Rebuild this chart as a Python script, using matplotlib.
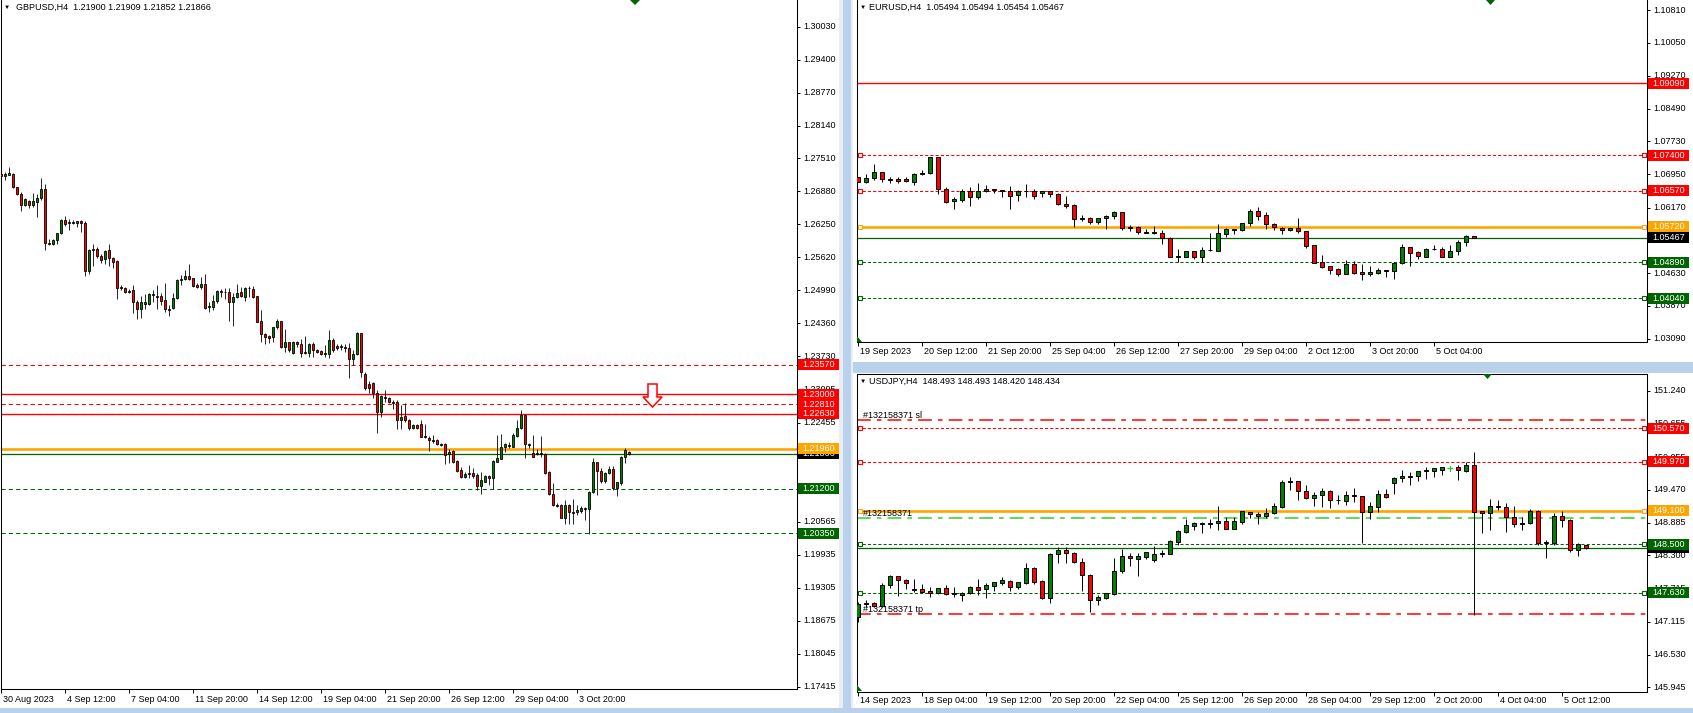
import numpy as np
import matplotlib
matplotlib.use("Agg")
import matplotlib.pyplot as plt
import matplotlib.transforms as mtransforms
from matplotlib.patches import Rectangle, Polygon

plt.rcParams["font.family"] = ["Liberation Sans", "DejaVu Sans"]
plt.rcParams["font.size"] = 6.5

W, H = 1693, 713

# ---------------- GBPUSD H4 ----------------
gbp_open = [1.2721, 1.2717, 1.2720, 1.2722, 1.2696, 1.2684, 1.2663, 1.2670, 1.2663, 1.2668,
            1.2675, 1.2692, 1.2589, 1.2587, 1.2596, 1.2608, 1.2633, 1.2627, 1.2628, 1.2627,
            1.2631, 1.2628, 1.2535, 1.2576, 1.2578, 1.2564, 1.2558, 1.2576, 1.2560, 1.2555,
            1.2503, 1.2504, 1.2496, 1.2499, 1.2477, 1.2463, 1.2472, 1.2473, 1.2492, 1.2489,
            1.2488, 1.2480, 1.2463, 1.2466, 1.2485, 1.2519, 1.2520, 1.2527, 1.2522, 1.2509,
            1.2506, 1.2511, 1.2467, 1.2468, 1.2478, 1.2497, 1.2495, 1.2496, 1.2477, 1.2487,
            1.2495, 1.2487, 1.2503, 1.2501, 1.2488, 1.2440, 1.2416, 1.2411, 1.2410, 1.2428,
            1.2440, 1.2390, 1.2400, 1.2380, 1.2400, 1.2396, 1.2381, 1.2380, 1.2396, 1.2384,
            1.2383, 1.2379, 1.2377, 1.2405, 1.2392, 1.2390, 1.2391, 1.2388, 1.2368, 1.2377,
            1.2417, 1.2340, 1.2320, 1.2321, 1.2303, 1.2267, 1.2296, 1.2294, 1.2286, 1.2285,
            1.2252, 1.2259, 1.2252, 1.2236, 1.2242, 1.2243, 1.2220, 1.2217, 1.2213, 1.2212,
            1.2206, 1.2206, 1.2186, 1.2192, 1.2173, 1.2156, 1.2143, 1.2148, 1.2150, 1.2146,
            1.2125, 1.2133, 1.2144, 1.2140, 1.2171, 1.2177, 1.2199, 1.2204, 1.2200, 1.2220,
            1.2235, 1.2261, 1.2206, 1.2189, 1.2188, 1.2187, 1.2187, 1.2152, 1.2110, 1.2089,
            1.2089, 1.2064, 1.2089, 1.2075, 1.2075, 1.2077, 1.2082, 1.2081, 1.2113, 1.2170,
            1.2153, 1.2135, 1.2149, 1.2157, 1.2122, 1.2130, 1.2180, 1.2190]
gbp_high = [1.2729, 1.2726, 1.2734, 1.2724, 1.2697, 1.2687, 1.2675, 1.2671, 1.2685, 1.2684,
            1.2713, 1.2703, 1.2598, 1.2598, 1.2609, 1.2635, 1.2642, 1.2636, 1.2633, 1.2631,
            1.2633, 1.2631, 1.2578, 1.2587, 1.2581, 1.2568, 1.2576, 1.2587, 1.2563, 1.2557,
            1.2509, 1.2506, 1.2501, 1.2509, 1.2480, 1.2489, 1.2492, 1.2493, 1.2499, 1.2510,
            1.2494, 1.2513, 1.2471, 1.2494, 1.2520, 1.2529, 1.2538, 1.2549, 1.2523, 1.2513,
            1.2524, 1.2530, 1.2477, 1.2490, 1.2499, 1.2501, 1.2503, 1.2504, 1.2493, 1.2512,
            1.2505, 1.2506, 1.2507, 1.2507, 1.2489, 1.2461, 1.2418, 1.2413, 1.2429, 1.2445,
            1.2441, 1.2426, 1.2401, 1.2402, 1.2403, 1.2406, 1.2412, 1.2398, 1.2401, 1.2386,
            1.2385, 1.2394, 1.2424, 1.2407, 1.2396, 1.2396, 1.2396, 1.2398, 1.2385, 1.2420,
            1.2418, 1.2342, 1.2326, 1.2324, 1.2308, 1.2299, 1.2308, 1.2296, 1.2289, 1.2289,
            1.2280, 1.2283, 1.2254, 1.2244, 1.2243, 1.2252, 1.2243, 1.2220, 1.2222, 1.2214,
            1.2207, 1.2208, 1.2195, 1.2194, 1.2175, 1.2162, 1.2152, 1.2165, 1.2159, 1.2149,
            1.2152, 1.2146, 1.2146, 1.2175, 1.2222, 1.2225, 1.2207, 1.2210, 1.2227, 1.2251,
            1.2271, 1.2262, 1.2208, 1.2222, 1.2196, 1.2220, 1.2189, 1.2153, 1.2130, 1.2092,
            1.2090, 1.2098, 1.2090, 1.2101, 1.2089, 1.2086, 1.2084, 1.2115, 1.2178, 1.2171,
            1.2159, 1.2151, 1.2163, 1.2163, 1.2133, 1.2182, 1.2198, 1.2191]
gbp_low = [1.2707, 1.2710, 1.2719, 1.2694, 1.2681, 1.2651, 1.2660, 1.2657, 1.2659, 1.2640,
           1.2671, 1.2577, 1.2585, 1.2585, 1.2587, 1.2606, 1.2622, 1.2614, 1.2626, 1.2620,
           1.2611, 1.2526, 1.2531, 1.2545, 1.2560, 1.2552, 1.2549, 1.2546, 1.2541, 1.2482,
           1.2500, 1.2493, 1.2493, 1.2456, 1.2445, 1.2447, 1.2464, 1.2471, 1.2477, 1.2463,
           1.2471, 1.2457, 1.2450, 1.2464, 1.2483, 1.2509, 1.2519, 1.2519, 1.2506, 1.2503,
           1.2501, 1.2464, 1.2458, 1.2461, 1.2475, 1.2487, 1.2482, 1.2441, 1.2431, 1.2484,
           1.2487, 1.2479, 1.2487, 1.2485, 1.2438, 1.2401, 1.2396, 1.2398, 1.2401, 1.2426,
           1.2388, 1.2382, 1.2382, 1.2378, 1.2391, 1.2371, 1.2377, 1.2372, 1.2372, 1.2379,
           1.2375, 1.2371, 1.2369, 1.2382, 1.2385, 1.2385, 1.2382, 1.2332, 1.2356, 1.2375,
           1.2333, 1.2308, 1.2303, 1.2294, 1.2227, 1.2257, 1.2286, 1.2283, 1.2273, 1.2233,
           1.2233, 1.2248, 1.2232, 1.2234, 1.2234, 1.2218, 1.2216, 1.2192, 1.2207, 1.2204,
           1.2202, 1.2167, 1.2169, 1.2168, 1.2152, 1.2141, 1.2140, 1.2140, 1.2141, 1.2117,
           1.2110, 1.2132, 1.2127, 1.2120, 1.2170, 1.2176, 1.2190, 1.2198, 1.2199, 1.2219,
           1.2233, 1.2179, 1.2198, 1.2180, 1.2185, 1.2181, 1.2148, 1.2108, 1.2087, 1.2084,
           1.2063, 1.2052, 1.2052, 1.2053, 1.2070, 1.2073, 1.2060, 1.2034, 1.2111, 1.2108,
           1.2130, 1.2131, 1.2148, 1.2117, 1.2106, 1.2127, 1.2169, 1.2185]
gbp_close = [1.2717, 1.2721, 1.2723, 1.2696, 1.2684, 1.2663, 1.2673, 1.2663, 1.2670, 1.2675,
             1.2692, 1.2589, 1.2587, 1.2596, 1.2608, 1.2633, 1.2626, 1.2630, 1.2630, 1.2631,
             1.2628, 1.2535, 1.2576, 1.2578, 1.2564, 1.2557, 1.2575, 1.2560, 1.2554, 1.2503,
             1.2506, 1.2495, 1.2498, 1.2477, 1.2463, 1.2476, 1.2477, 1.2492, 1.2490, 1.2487,
             1.2479, 1.2463, 1.2461, 1.2485, 1.2519, 1.2521, 1.2527, 1.2521, 1.2508, 1.2506,
             1.2511, 1.2466, 1.2469, 1.2478, 1.2497, 1.2495, 1.2496, 1.2477, 1.2487, 1.2494,
             1.2489, 1.2503, 1.2504, 1.2487, 1.2439, 1.2415, 1.2409, 1.2407, 1.2428, 1.2440,
             1.2390, 1.2400, 1.2385, 1.2400, 1.2396, 1.2380, 1.2380, 1.2396, 1.2384, 1.2382,
             1.2378, 1.2377, 1.2405, 1.2385, 1.2388, 1.2392, 1.2388, 1.2368, 1.2377, 1.2417,
             1.2343, 1.2313, 1.2313, 1.2303, 1.2267, 1.2297, 1.2293, 1.2286, 1.2284, 1.2252,
             1.2257, 1.2252, 1.2236, 1.2242, 1.2235, 1.2219, 1.2218, 1.2212, 1.2211, 1.2206,
             1.2204, 1.2185, 1.2190, 1.2170, 1.2154, 1.2143, 1.2148, 1.2150, 1.2145, 1.2125,
             1.2136, 1.2144, 1.2140, 1.2172, 1.2178, 1.2199, 1.2205, 1.2202, 1.2222, 1.2236,
             1.2261, 1.2206, 1.2203, 1.2181, 1.2186, 1.2189, 1.2150, 1.2109, 1.2088, 1.2086,
             1.2064, 1.2089, 1.2075, 1.2073, 1.2079, 1.2082, 1.2081, 1.2114, 1.2170, 1.2153,
             1.2135, 1.2150, 1.2157, 1.2122, 1.2132, 1.2181, 1.2194, 1.2187]
gbp_xlabels = ["30 Aug 2023", "4 Sep 12:00", "7 Sep 04:00", "11 Sep 20:00", "14 Sep 12:00",
               "19 Sep 04:00", "21 Sep 20:00", "26 Sep 12:00", "29 Sep 04:00", "3 Oct 20:00"]
gbp_yticks = [1.30030, 1.29400, 1.28770, 1.28140, 1.27510, 1.26880, 1.26250, 1.25620, 1.24990,
              1.24360, 1.23730, 1.23095, 1.22455, 1.21825, 1.20565, 1.19935, 1.19305,
              1.18675, 1.18045, 1.17415]

# ---------------- EURUSD H4 ----------------
eur_open = [1.0688, 1.0678, 1.0686, 1.0700, 1.0684, 1.0684, 1.0684, 1.0678, 1.0695, 1.0698,
            1.0735, 1.0660, 1.0632, 1.0635, 1.0656, 1.0641, 1.0655, 1.0661, 1.0658, 1.0656,
            1.0646, 1.0656, 1.0656, 1.0651, 1.0656, 1.0648, 1.0625, 1.0623, 1.0590, 1.0593,
            1.0584, 1.0592, 1.0597, 1.0607, 1.0569, 1.0571, 1.0560, 1.0558, 1.0558, 1.0545,
            1.0502, 1.0502, 1.0514, 1.0502, 1.0517, 1.0516, 1.0555, 1.0566, 1.0564, 1.0580,
            1.0609, 1.0599, 1.0578, 1.0569, 1.0564, 1.0569, 1.0562, 1.0529, 1.0489, 1.0480,
            1.0474, 1.0462, 1.0484, 1.0466, 1.0460, 1.0464, 1.0470, 1.0469, 1.0486, 1.0525,
            1.0512, 1.0502, 1.0520, 1.0520, 1.0502, 1.0514, 1.0536, 1.05494]
eur_high = [1.0690, 1.0695, 1.0720, 1.0700, 1.0690, 1.0688, 1.0688, 1.0698, 1.0705, 1.0737,
            1.0737, 1.0665, 1.0641, 1.0662, 1.0665, 1.0675, 1.0670, 1.0662, 1.0658, 1.0668,
            1.0659, 1.0673, 1.0660, 1.0656, 1.0656, 1.0651, 1.0644, 1.0625, 1.0600, 1.0596,
            1.0592, 1.0600, 1.0610, 1.0607, 1.0576, 1.0574, 1.0568, 1.0574, 1.0565, 1.0547,
            1.0519, 1.0515, 1.0515, 1.0524, 1.0557, 1.0578, 1.0569, 1.0567, 1.0582, 1.0615,
            1.0619, 1.0607, 1.0580, 1.0571, 1.0570, 1.0593, 1.0562, 1.0530, 1.0506, 1.0481,
            1.0475, 1.0494, 1.0492, 1.0485, 1.0480, 1.0475, 1.0470, 1.0489, 1.0532, 1.0525,
            1.0514, 1.0522, 1.0529, 1.0524, 1.0529, 1.0541, 1.0553, 1.05494]
eur_low = [1.0677, 1.0674, 1.0682, 1.0678, 1.0676, 1.0676, 1.0677, 1.0671, 1.0693, 1.0696,
           1.0650, 1.0629, 1.0615, 1.0631, 1.0622, 1.0637, 1.0653, 1.0652, 1.0641, 1.0615,
           1.0633, 1.0641, 1.0638, 1.0641, 1.0643, 1.0623, 1.0617, 1.0572, 1.0585, 1.0579,
           1.0578, 1.0568, 1.0590, 1.0565, 1.0561, 1.0554, 1.0557, 1.0554, 1.0532, 1.0500,
           1.0489, 1.0500, 1.0496, 1.0490, 1.0515, 1.0515, 1.0549, 1.0556, 1.0561, 1.0574,
           1.0587, 1.0568, 1.0564, 1.0556, 1.0563, 1.0558, 1.0523, 1.0486, 1.0476, 1.0462,
           1.0457, 1.0460, 1.0460, 1.0446, 1.0457, 1.0462, 1.0455, 1.0450, 1.0484, 1.0481,
           1.0497, 1.0501, 1.0518, 1.0500, 1.0500, 1.0506, 1.0528, 1.05454]
eur_close = [1.0678, 1.0686, 1.0700, 1.0684, 1.0681, 1.0680, 1.0679, 1.0695, 1.0699, 1.0735,
             1.0660, 1.0631, 1.0637, 1.0656, 1.0641, 1.0656, 1.0662, 1.0659, 1.0656, 1.0645,
             1.0656, 1.0657, 1.0644, 1.0656, 1.0648, 1.0625, 1.0622, 1.0590, 1.0593, 1.0584,
             1.0592, 1.0597, 1.0607, 1.0569, 1.0572, 1.0559, 1.0558, 1.0560, 1.0545, 1.0502,
             1.0504, 1.0514, 1.0502, 1.0517, 1.0518, 1.0557, 1.0566, 1.0564, 1.0580, 1.0609,
             1.0598, 1.0578, 1.0572, 1.0564, 1.0569, 1.0561, 1.0528, 1.0488, 1.0478, 1.0471,
             1.0462, 1.0484, 1.0464, 1.0460, 1.0465, 1.0470, 1.0469, 1.0487, 1.0525, 1.0511,
             1.0504, 1.0520, 1.0520, 1.0502, 1.0515, 1.0536, 1.0550, 1.05467]
eur_xlabels = ["19 Sep 2023", "20 Sep 12:00", "21 Sep 20:00", "25 Sep 04:00", "26 Sep 12:00",
               "27 Sep 20:00", "29 Sep 04:00", "2 Oct 12:00", "3 Oct 20:00", "5 Oct 04:00"]
eur_yticks = [1.10810, 1.10050, 1.09270, 1.08490, 1.07730, 1.06950, 1.06170,
              1.04630, 1.03870, 1.03090]

# ---------------- USDJPY H4 ----------------
jpy_open = [147.206, 147.432, 147.456, 147.397, 147.766, 147.932, 147.855, 147.700, 147.700, 147.664,
            147.623, 147.712, 147.611, 147.587, 147.623, 147.730, 147.694, 147.760, 147.813, 147.837,
            147.730, 147.813, 148.069, 147.843, 147.534, 148.319, 148.397, 148.337, 148.176, 147.950,
            147.498, 147.534, 147.617, 148.016, 148.289, 148.230, 148.277, 148.212, 148.325, 148.331,
            148.545, 148.724, 148.831, 148.855, 148.879, 148.873, 148.914, 148.778, 148.903, 149.069,
            149.040, 149.010, 149.051, 149.170, 149.605, 149.629, 149.450, 149.319, 149.373, 149.450,
            149.283, 149.265, 149.373, 149.355, 149.069, 149.170, 149.391, 149.587, 149.676, 149.718,
            149.712, 149.807, 149.813, 149.819, 149.855, 149.873, 149.801, 149.914, 149.087, 149.051,
            149.182, 149.170, 148.980, 148.861, 148.873, 149.099, 148.528, 148.528, 149.004, 148.932,
            148.397, 148.493]
jpy_high = [147.474, 147.504, 147.474, 147.813, 147.950, 147.932, 147.873, 147.879, 147.789, 147.742,
            147.724, 147.772, 147.742, 147.653, 147.754, 147.879, 147.813, 147.831, 147.920, 147.861,
            147.831, 148.158, 148.099, 147.861, 148.337, 148.456, 148.456, 148.367, 148.248, 147.968,
            147.593, 147.635, 148.248, 148.414, 148.337, 148.337, 148.367, 148.474, 148.397, 148.575,
            148.754, 148.944, 148.903, 148.897, 148.944, 149.182, 148.980, 148.980, 149.093, 149.069,
            149.069, 149.141, 149.230, 149.647, 149.694, 149.629, 149.551, 149.432, 149.504, 149.468,
            149.373, 149.450, 149.504, 149.361, 149.260, 149.462, 149.480, 149.706, 149.825, 149.783,
            149.807, 149.873, 149.867, 149.873, 149.891, 149.914, 149.962, 150.152, 149.099, 149.301,
            149.289, 149.230, 149.182, 148.992, 149.123, 149.111, 148.575, 149.063, 149.099, 148.944,
            148.516, 148.493]
jpy_low = [147.117, 147.385, 147.373, 147.373, 147.712, 147.581, 147.694, 147.653, 147.635, 147.551,
           147.605, 147.593, 147.563, 147.492, 147.611, 147.593, 147.545, 147.670, 147.772, 147.670,
           147.694, 147.789, 147.789, 147.516, 147.456, 148.158, 148.158, 148.158, 147.670, 147.295,
           147.415, 147.516, 147.593, 147.992, 148.117, 147.938, 148.230, 148.188, 148.277, 148.319,
           148.486, 148.706, 148.754, 148.694, 148.795, 148.748, 148.766, 148.766, 148.861, 148.962,
           148.855, 148.962, 149.039, 149.153, 149.468, 149.289, 149.307, 149.188, 149.158, 149.141,
           149.212, 149.194, 149.260, 148.516, 148.944, 149.069, 149.325, 149.391, 149.617, 149.551,
           149.629, 149.658, 149.694, 149.736, 149.807, 149.647, 149.783, 147.236, 148.694, 148.754,
           149.111, 148.724, 148.813, 148.754, 148.861, 148.486, 148.248, 148.486, 148.801, 148.367,
           148.289, 148.420]
jpy_close = [147.432, 147.456, 147.397, 147.772, 147.932, 147.855, 147.813, 147.682, 147.653, 147.623,
             147.712, 147.611, 147.623, 147.635, 147.730, 147.688, 147.772, 147.825, 147.861, 147.730,
             147.825, 148.069, 147.831, 147.534, 148.325, 148.397, 148.337, 148.182, 147.944, 147.498,
             147.557, 147.623, 148.016, 148.289, 148.248, 148.289, 148.355, 148.325, 148.343, 148.557,
             148.736, 148.843, 148.879, 148.885, 148.867, 148.914, 148.778, 148.914, 149.093, 149.034,
             149.010, 149.057, 149.176, 149.611, 149.629, 149.444, 149.319, 149.379, 149.444, 149.283,
             149.295, 149.373, 149.355, 149.069, 149.176, 149.391, 149.337, 149.676, 149.718, 149.706,
             149.807, 149.825, 149.855, 149.873, 149.855, 149.819, 149.914, 149.081, 149.051, 149.182,
             149.164, 148.980, 148.855, 148.885, 149.099, 148.528, 148.545, 149.004, 148.932, 148.397,
             148.498, 148.434]
jpy_lime_doji = 74
jpy_xlabels = ["14 Sep 2023", "18 Sep 04:00", "19 Sep 12:00", "20 Sep 20:00", "22 Sep 04:00",
               "25 Sep 12:00", "26 Sep 20:00", "28 Sep 04:00", "29 Sep 12:00", "2 Oct 20:00",
               "4 Oct 04:00", "5 Oct 12:00"]
jpy_yticks = [151.240, 150.655, 150.055, 149.470, 148.885, 148.300, 147.715, 147.115, 146.530, 145.945]

RED, ORANGE, DKGREEN, BULL = "#ff0000", "#ffa500", "#006400", "#008000"

fig = plt.figure(figsize=(W / 100, H / 100), dpi=100)
fig.patch.set_facecolor("white")
ID = mtransforms.IdentityTransform()


def add_axes_px(left, top, right, bottom):
    return fig.add_axes([left / W, 1 - bottom / H, (right - left) / W, (bottom - top) / H])


def fig_rect(x0, y0, x1, y1, color, z=1):
    fig.patches.append(Rectangle((x0, H - y1), x1 - x0, y1 - y0, transform=ID,
                                 facecolor=color, edgecolor="none", zorder=z))


def fig_poly(pts, fc, ec="none", lw=1.0, z=30):
    fig.patches.append(Polygon([(x, H - y) for x, y in pts], closed=True, transform=ID,
                               facecolor=fc, edgecolor=ec, linewidth=lw, zorder=z))


def fig_text(x, y, s, color="black", z=25, size=6.5):
    fig.text(x, H - y, s, transform=ID, color=color, zorder=z, va="center", ha="left",
             fontsize=size)


def candles(ax, o, h, l, c, width, lw=0.7):
    o, h, l, c = map(np.asarray, (o, h, l, c))
    x = np.arange(len(o))
    ax.vlines(x, l, h, color="black", linewidth=lw, zorder=3)
    up = c >= o
    ax.bar(x, np.abs(c - o), width, np.minimum(o, c), color=np.where(up, BULL, RED),
           edgecolor="black", linewidth=lw, zorder=4)


def setup(ax, xlim, ylim, yticks, xlabels, step, label_y, top_spine=True):
    ax.set_xlim(*xlim)
    ax.set_ylim(*ylim)
    ax.yaxis.tick_right()
    xt = np.arange(len(xlabels)) * step
    ax.set_xticks(xt)
    ax.set_yticks(yticks)
    ax.set_xticklabels([])
    ax.set_yticklabels([])
    ax.tick_params(axis="y", direction="out", length=2.2, width=0.7)
    ax.tick_params(axis="x", direction="out", length=3.0, width=0.7)
    for s in ax.spines.values():
        s.set_linewidth(0.75)
    ax.spines["top"].set_visible(top_spine)
    # tick labels placed in pixel space, MT4 style
    xr = ax.transAxes.transform((1, 0))[0]
    for v in yticks:
        yp = H - ax.transData.transform((0, v))[1]
        fig_text(xr + 6, yp, f"{v:.5f}" if v < 10 else f"{v:.3f}", z=5)
    for xv, lab in zip(xt, xlabels):
        xp = ax.transData.transform((xv, 0))[0]
        fig_text(xp + 2, label_y, lab, z=5)


def end_marks(ax, price, color):
    ax.plot([0.004, 0.996], [price, price], transform=ax.get_yaxis_transform(), ls="none",
            marker="s", ms=2.6, mfc="white", mec=color, mew=0.8, zorder=6, clip_on=False)


box_z = [40]


def price_box(ax, price, text, bg):
    xr = ax.transAxes.transform((1, 0))[0]
    yp = H - ax.transData.transform((0, price))[1]
    box_z[0] += 2
    fig_rect(xr + 1, yp - 5.5, xr + 42, yp + 5.5, bg, z=box_z[0])
    fig_text(xr + 5, yp, text, color="white", z=box_z[0] + 1)


# window frames
fig_rect(839, 0, 853, H, "#e9eef5", z=0.5)
fig_rect(843, 0, 851, H, "#b9d1ea", z=0.6)
fig_rect(853, 362, W, 373, "#b9d1ea", z=0.6)
fig_rect(0, 708, W, H, "#b9d1ea", z=0.6)

# ---------------- GBPUSD panel ----------------
ax1 = add_axes_px(0.5, -1, 797, 689)
candles(ax1, gbp_open, gbp_high, gbp_low, gbp_close, 0.62, lw=0.6)
setup(ax1, (-0.125, 199), (1.17370, 1.30558), gbp_yticks, gbp_xlabels, 16, 699.5, top_spine=False)
ax1.axhline(1.23570, color=RED, lw=0.75, ls=(0, (4, 3)))
ax1.axhline(1.23000, color=RED, lw=1.0)
ax1.axhline(1.22810, color=RED, lw=0.75, ls=(0, (4, 3)))
ax1.axhline(1.22630, color=RED, lw=1.0)
ax1.axhline(1.21866, color=DKGREEN, lw=0.9)
ax1.axhline(1.21960, color=ORANGE, lw=1.9)
ax1.axhline(1.21200, color=DKGREEN, lw=0.75, ls=(0, (4, 3)))
ax1.axhline(1.20350, color=DKGREEN, lw=0.75, ls=(0, (4, 3)))
price_box(ax1, 1.23570, "1.23570", RED)
price_box(ax1, 1.22630, "1.22630", RED)
price_box(ax1, 1.22810, "1.22810", RED)
price_box(ax1, 1.23000, "1.23000", RED)
price_box(ax1, 1.21866, "1.21866", "black")
price_box(ax1, 1.21960, "1.21960", ORANGE)
price_box(ax1, 1.21200, "1.21200", DKGREEN)
price_box(ax1, 1.20350, "1.20350", DKGREEN)
fig_text(4, 7, "\u25bc", size=4.5)
fig_text(16, 7, "GBPUSD,H4  1.21900 1.21909 1.21852 1.21866")
fig_poly([(630, 0), (640, 0), (635, 5)], "#006400")
fig_poly([(648, 384), (657, 384), (657, 397), (662, 397), (652.5, 407), (643, 397), (648, 397)],
         "white", ec=RED, lw=1.1)

# ---------------- EURUSD panel ----------------
ax2 = add_axes_px(856.5, -1, 1647, 341.5)
candles(ax2, eur_open, eur_high, eur_low, eur_close, 0.55)
setup(ax2, (-0.15, 98.66), (1.03025, 1.11073), eur_yticks, eur_xlabels, 8, 352, top_spine=False)
ax2.axhline(1.09090, color=RED, lw=1.0)
ax2.axhline(1.07400, color=RED, lw=0.75, ls=(0, (3, 2)))
ax2.axhline(1.06570, color=RED, lw=0.75, ls=(0, (3, 2)))
ax2.axhline(1.05720, color=ORANGE, lw=1.9)
ax2.axhline(1.05467, color=DKGREEN, lw=0.9)
ax2.axhline(1.04890, color=DKGREEN, lw=0.75, ls=(0, (3, 2)))
ax2.axhline(1.04040, color=DKGREEN, lw=0.75, ls=(0, (3, 2)))
for p_, c_ in [(1.07400, RED), (1.06570, RED), (1.05720, ORANGE), (1.04890, DKGREEN), (1.04040, DKGREEN)]:
    end_marks(ax2, p_, c_)
price_box(ax2, 1.09090, "1.09090", RED)
price_box(ax2, 1.07400, "1.07400", RED)
price_box(ax2, 1.06570, "1.06570", RED)
price_box(ax2, 1.05720, "1.05720", ORANGE)
price_box(ax2, 1.05467, "1.05467", "black")
price_box(ax2, 1.04890, "1.04890", DKGREEN)
price_box(ax2, 1.04040, "1.04040", DKGREEN)
fig_text(860, 7, "\u25bc", size=4.5)
fig_text(869, 7, "EURUSD,H4  1.05494 1.05494 1.05454 1.05467")
fig_poly([(1486, 0), (1495, 0), (1490.5, 5)], "#006400")
fig_poly([(857, 336), (857, 342), (862, 342)], "#006400")

# ---------------- USDJPY panel ----------------
ax3 = add_axes_px(856.5, 374, 1647, 691.5)
candles(ax3, jpy_open, jpy_high, jpy_low, jpy_close, 0.55)
ax3.vlines(jpy_lime_doji, jpy_low[jpy_lime_doji], jpy_high[jpy_lime_doji], color="#00e000", lw=0.8, zorder=5)
ax3.hlines(jpy_close[jpy_lime_doji], jpy_lime_doji - 0.3, jpy_lime_doji + 0.3, color="#00e000", lw=0.8, zorder=5)
setup(ax3, (-0.15, 98.66), (145.870, 151.540), jpy_yticks, jpy_xlabels, 8, 700.5)
ax3.axhline(150.712, color=RED, lw=1.1, ls=(0, (9, 4, 3, 4)))
ax3.axhline(150.570, color=RED, lw=0.75, ls=(0, (3, 2)))
ax3.axhline(149.970, color=RED, lw=0.75, ls=(0, (3, 2)))
ax3.axhline(149.100, color=ORANGE, lw=1.9)
ax3.axhline(148.962, color="#32cd32", lw=1.1, ls=(0, (9, 4, 3, 4)))
ax3.axhline(148.500, color=DKGREEN, lw=0.75, ls=(0, (3, 2)))
ax3.axhline(148.434, color=DKGREEN, lw=0.9)
ax3.axhline(147.630, color=DKGREEN, lw=0.75, ls=(0, (3, 2)))
ax3.axhline(147.248, color=RED, lw=1.1, ls=(0, (9, 4, 3, 4)))
for p_, c_ in [(150.570, RED), (149.970, RED), (149.100, ORANGE), (148.500, DKGREEN), (147.630, DKGREEN)]:
    end_marks(ax3, p_, c_)
price_box(ax3, 150.570, "150.570", RED)
price_box(ax3, 149.970, "149.970", RED)
price_box(ax3, 149.100, "149.100", ORANGE)
price_box(ax3, 148.434, "148.434", "black")
price_box(ax3, 148.500, "148.500", DKGREEN)
price_box(ax3, 147.630, "147.630", DKGREEN)
fig_text(860, 381, "\u25bc", size=4.5)
fig_text(869, 381, "USDJPY,H4  148.493 148.493 148.420 148.434")
fig_text(863, 415, "#132158371 sl")
fig_text(863, 513, "#132158371")
fig_text(863, 609, "#132158371 tp")
fig_poly([(1483, 374), (1492, 374), (1487.5, 379)], "#006400")
fig_poly([(857, 685), (857, 691), (862, 691)], "#006400")

fig.savefig("out.png", dpi=100, facecolor="white")
